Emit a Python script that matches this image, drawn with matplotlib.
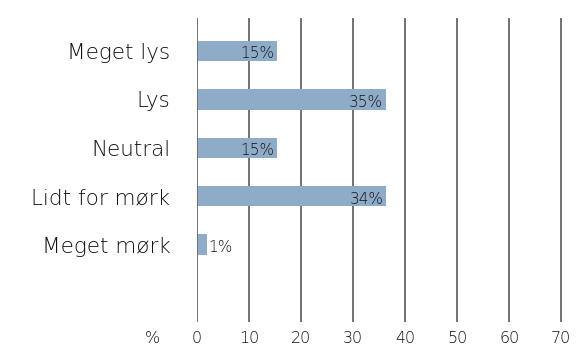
import numpy as np
import matplotlib.pyplot as plt

plt.rcParams['font.family'] = ['DejaVu Sans']
plt.rcParams['font.weight'] = 'light'

categories = ["Meget lys", "Lys", "Neutral", "Lidt for mørk", "Meget mørk"]
bar_values = [15, 36, 15, 36, 1.7]
value_labels = ["15%", "35%", "15%", "34%", "1%"]
x_ticks = [0, 10, 20, 30, 40, 50, 60, 70]

bar_color = "#8eacc8"
text_color = "#111111"

fig = plt.figure(figsize=(5.79, 3.51), dpi=100)
ax = fig.add_axes([0.340, 0.0826, 0.632, 0.866])

y = np.arange(len(categories))
ax.barh(y, bar_values, height=0.42, left=0.3, color=bar_color, zorder=2)

for yi, v, lab in zip(y, bar_values, value_labels):
    if v > 5:
        ax.text(v - 0.2, yi + 0.06, lab, ha="right", va="center",
                fontsize=11, color=text_color, zorder=3)
    else:
        ax.text(v + 0.5, yi + 0.06, lab, ha="left", va="center",
                fontsize=11, color=text_color, zorder=3)

for t in x_ticks:
    ax.axvline(t, color="#666666", lw=1.3, zorder=1)

ax.set_xlim(0, 70.3)
ax.set_ylim(5.6, -0.68)
ax.set_yticks(y)
ax.set_yticklabels(categories, fontsize=15.5, color=text_color)
ax.set_xticks(x_ticks)
ax.set_xticklabels([str(t) for t in x_ticks], fontsize=11.5, color=text_color)
ax.tick_params(axis="y", length=0, pad=19)
ax.tick_params(axis="x", length=0, pad=6.5)
for s in ax.spines.values():
    s.set_visible(False)

fig.canvas.draw()
bb = ax.get_xticklabels()[0].get_window_extent()
fig.text(152 / 579, (bb.y0 + bb.y1) / 2 / fig.bbox.height, "%",
         ha="center", va="center", fontsize=11.5, color=text_color)

fig.savefig("out.png", dpi=100)
